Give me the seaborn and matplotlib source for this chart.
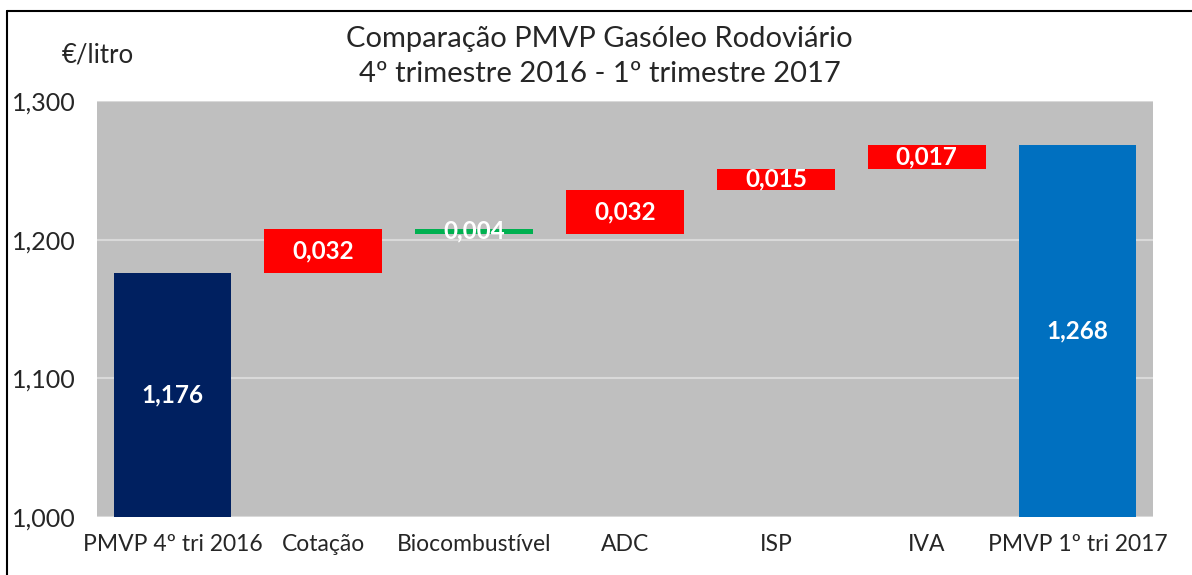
import numpy as np
import matplotlib
matplotlib.use("Agg")
import matplotlib.pyplot as plt
import seaborn as sns
from matplotlib.lines import Line2D

# data
categories = ["PMVP 4º tri 2016", "Cotação", "Biocombustível", "ADC", "ISP", "IVA", "PMVP 1º tri 2017"]
start_price = 1.176
changes = [0.032, -0.004, 0.032, 0.015, 0.017]
end_price = 1.268
yticks = [1.0, 1.1, 1.2, 1.3]

# waterfall bottoms / heights
levels = start_price + np.cumsum([0] + changes)
bottoms = [0.0] + [min(levels[i], levels[i + 1]) for i in range(len(changes))] + [0.0]
heights = [start_price] + [abs(c) for c in changes] + [end_price]
label_vals = [start_price] + [abs(c) for c in changes] + [end_price]
colors = ["#002060"] + ["#FF0000" if c > 0 else "#00B050" for c in changes] + ["#0070C0"]

sns.set_theme(style="white")
plt.rcParams["font.family"] = ["Lato", "DejaVu Sans"]

fig = plt.figure(figsize=(11.92, 5.75), dpi=100)
ax = fig.add_axes([0.0814, 0.1009, 0.8859, 0.7235])
ax.set_facecolor("#BFBFBF")

sns.barplot(x=categories, y=heights, bottom=bottoms, color="#FF0000",
            width=0.78, errorbar=None, ax=ax, zorder=3)
for patch, col in zip(ax.patches, colors):
    patch.set_facecolor(col)
    patch.set_edgecolor("none")

for i, (b, h, v) in enumerate(zip(bottoms, heights, label_vals)):
    lo = max(b, 1.0)
    ymid = (lo + b + h) / 2
    ax.text(i, ymid, f"{v:.3f}".replace(".", ","), ha="center", va="center",
            color="white", fontsize=17.5, fontweight="bold", zorder=5)

ax.set_ylim(1.0, 1.3)
ax.set_xlim(-0.5, len(categories) - 0.5)
ax.set_yticks(yticks)
ax.set_yticklabels([f"{t:.3f}".replace(".", ",") for t in yticks], fontsize=18)
for lab in ax.get_yticklabels():
    lab.set_horizontalalignment("left")
ax.tick_params(axis="y", length=0, pad=61)
ax.tick_params(axis="x", length=0, pad=12, labelsize=16.5)
ax.grid(axis="y", color="#D9D9D9", linewidth=1.5, zorder=1)
ax.set_axisbelow(True)
ax.set_xlabel("")
sns.despine(ax=ax, left=True, bottom=True)

fig.text(0.503, 0.933, "Comparação PMVP Gasóleo Rodoviário", ha="center", va="center", fontsize=21)
fig.text(0.503, 0.871, "4º trimestre 2016 - 1º trimestre 2017", ha="center", va="center", fontsize=21)
fig.text(0.052, 0.905, "€/litro", ha="left", va="center", fontsize=18.5)

# outer frame (cropped on right/bottom in the reference)
fig.add_artist(Line2D([7 / 1192, 1.0], [1 - 11 / 575, 1 - 11 / 575], color="black", linewidth=1.5))
fig.add_artist(Line2D([7 / 1192, 7 / 1192], [0.0, 1 - 11 / 575], color="black", linewidth=1.5))

fig.savefig("out.png", dpi=100)
